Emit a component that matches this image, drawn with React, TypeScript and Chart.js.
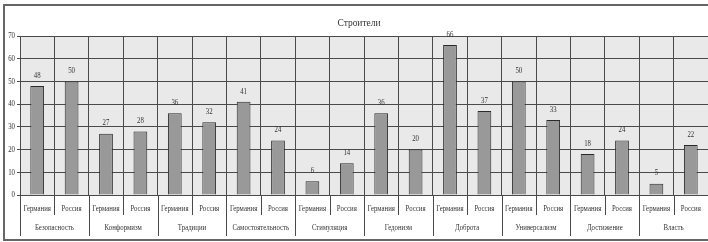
import React, { useEffect, useRef } from "react";
import { Chart, registerables } from "chart.js";

Chart.register(...registerables);

const title = "Строители";
const groups = [
  "Безопасность",
  "Конформизм",
  "Традиции",
  "Самостоятельность",
  "Стимуляция",
  "Гедонизм",
  "Доброта",
  "Универсализм",
  "Достижение",
  "Власть",
];
const countries = ["Германия", "Россия"];
const germany = [48, 27, 36, 41, 6, 36, 66, 50, 18, 5];
const russia = [50, 28, 32, 24, 14, 20, 37, 33, 24, 22];
const yMin = 0;
const yMax = 70;
const yStep = 10;

const labels: string[] = [];
const values: number[] = [];
groups.forEach((_, i) => {
  labels.push(countries[0]);
  values.push(germany[i]);
  labels.push(countries[1]);
  values.push(russia[i]);
});

const FONT = "'Liberation Serif', 'Times New Roman', serif";
const TEXT = "#333333";
const GRID = "#4a4a4a";

function condensed(ctx: CanvasRenderingContext2D, text: string, x: number, y: number, size: number, sx: number) {
  ctx.save();
  ctx.translate(x, y);
  ctx.scale(sx, 1);
  ctx.font = `${size}px ${FONT}`;
  ctx.fillStyle = TEXT;
  ctx.textAlign = "center";
  ctx.textBaseline = "middle";
  ctx.fillText(text, 0, 0);
  ctx.restore();
}

const decor = {
  id: "decor",
  beforeDraw(chart: any) {
    const { ctx, chartArea } = chart;
    ctx.save();
    ctx.fillStyle = "#ffffff";
    ctx.fillRect(0, 0, chart.width, chart.height);
    ctx.fillStyle = "#e9e9e9";
    ctx.fillRect(chartArea.left, chartArea.top, chartArea.right - chartArea.left, chartArea.bottom - chartArea.top);
    ctx.restore();
  },
  afterDatasetsDraw(chart: any) {
    const { ctx } = chart;
    const meta = chart.getDatasetMeta(0);
    const data = chart.data.datasets[0].data;
    meta.data.forEach((bar: any, i: number) => {
      condensed(ctx, String(data[i]), bar.x, bar.y - 10.5, 8.5, 0.8);
    });
  },
  afterDraw(chart: any) {
    const { ctx, chartArea } = chart;
    const xs = chart.scales.x;
    const ys = chart.scales.y;
    const n = labels.length;
    const band = xs.getPixelForValue(1) - xs.getPixelForValue(0);
    ctx.save();
    ctx.strokeStyle = GRID;
    ctx.lineWidth = 1;
    for (let i = 0; i <= n; i++) {
      const x = Math.round(xs.getPixelForValue(i) - band / 2) + 0.5;
      const end = i % 2 === 0 ? 236 : 215;
      ctx.beginPath();
      ctx.moveTo(x, chartArea.bottom);
      ctx.lineTo(x, end);
      ctx.stroke();
    }
    ctx.restore();
    labels.forEach((l, i) => {
      condensed(ctx, l, xs.getPixelForValue(i), 209, 8.5, 0.8);
    });
    groups.forEach((g, gi) => {
      const x = (xs.getPixelForValue(gi * 2) + xs.getPixelForValue(gi * 2 + 1)) / 2;
      condensed(ctx, g, x, 228, 8.5, 0.8);
    });
    for (let v = yMin; v <= yMax; v += yStep) {
      ctx.save();
      ctx.translate(15, ys.getPixelForValue(v));
      ctx.scale(0.8, 1);
      ctx.font = `8.5px ${FONT}`;
      ctx.fillStyle = TEXT;
      ctx.textAlign = "right";
      ctx.textBaseline = "middle";
      ctx.fillText(String(v), 0, 0);
      ctx.restore();
    }
    condensed(ctx, title, 359, 23, 10.5, 0.9);
    ctx.save();
    ctx.strokeStyle = "#666666";
    ctx.lineWidth = 2;
    ctx.strokeRect(4, 5, chart.width + 10, 235);
    ctx.restore();
  },
};

export default function App() {
  const ref = useRef<HTMLCanvasElement | null>(null);
  useEffect(() => {
    document.body.style.margin = "0";
    const chart = new Chart(ref.current as HTMLCanvasElement, {
      type: "bar",
      data: {
        labels,
        datasets: [
          {
            data: values,
            backgroundColor: "#999999",
            borderColor: "#2a2a2a",
            borderWidth: 1,
            barPercentage: 0.4,
            categoryPercentage: 1,
          },
        ],
      },
      options: {
        responsive: false,
        animation: false,
        layout: { padding: { top: 36, right: 0, bottom: 0, left: 0 } },
        plugins: { legend: { display: false }, title: { display: false }, tooltip: { enabled: false } },
        scales: {
          x: {
            offset: true,
            grid: { offset: true, color: GRID, drawTicks: false, lineWidth: 1 },
            border: { display: true, color: GRID },
            ticks: { display: false, autoSkip: false },
            afterFit: (s: any) => {
              s.height = 47;
            },
          },
          y: {
            min: yMin,
            max: yMax,
            ticks: { stepSize: yStep, display: false },
            grid: { color: GRID, tickLength: 3, lineWidth: 1 },
            border: { display: true, color: GRID },
            afterFit: (s: any) => {
              s.width = 20;
            },
          },
        },
      },
      plugins: [decor],
    });
    return () => chart.destroy();
  }, []);
  return (
    <div style={{ position: "absolute", left: 0, top: 0, width: 708, height: 242 }}>
      <canvas ref={ref} width={708} height={242} />
    </div>
  );
}
